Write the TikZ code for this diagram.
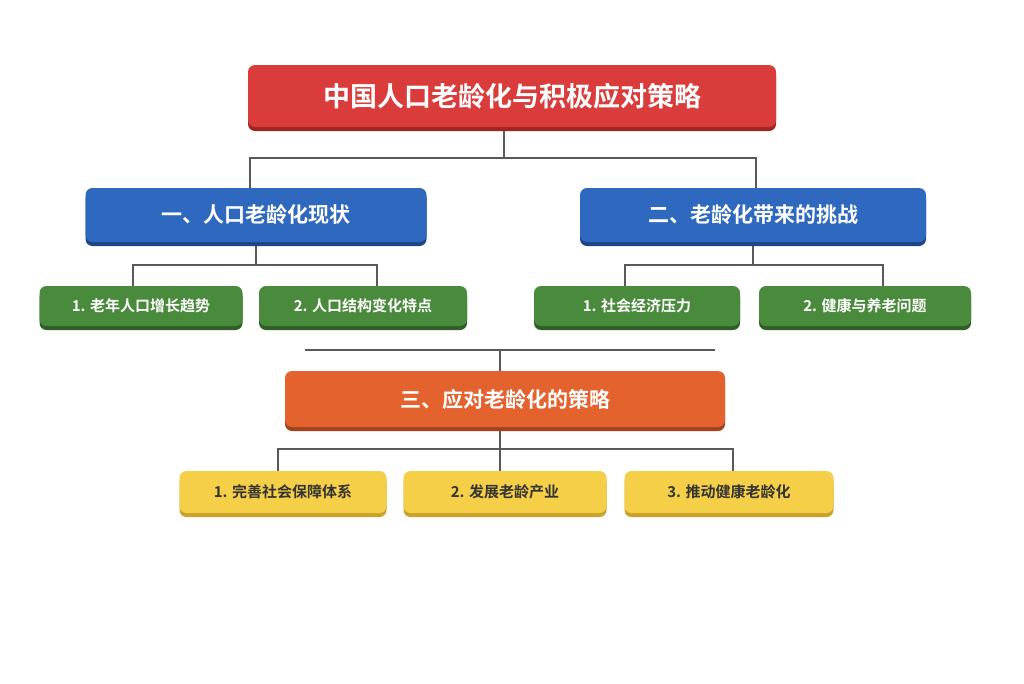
\documentclass[tikz,border=0pt]{standalone}
\usepackage{fontspec}
\setmainfont{Noto Sans CJK SC}[BoldFont={* Bold}]
\begin{document}
\begin{tikzpicture}[x=1pt,y=-1pt,
 box/.style={rounded corners=7pt,minimum height=#1,inner sep=0pt,font=\bfseries},
 conn/.style={draw=black!65,line width=1.1pt}]
\useasboundingbox[fill=white] (0,0) rectangle (1024,683);
\newcommand{\bx}[8]{% name, cx, cy, w, h, fill, shadow, text/ font
 \fill[#7,rounded corners=7pt] (#2-#4/2,#3-#5/2+4) rectangle (#2+#4/2,#3+#5/2+4);
 \node[box=#5pt,minimum width=#4pt,fill=#6] (#1) at (#2,#3) {#8};}
\definecolor{rd}{HTML}{D93C3A}\definecolor{rdS}{HTML}{9E2522}
\definecolor{bl}{HTML}{2F69BF}\definecolor{blS}{HTML}{1E4585}
\definecolor{gr}{HTML}{4A8A3C}\definecolor{grS}{HTML}{2F5E27}
\definecolor{or}{HTML}{E3622E}\definecolor{orS}{HTML}{A3421C}
\definecolor{ye}{HTML}{F4CF47}\definecolor{yeS}{HTML}{C9A227}
% connectors
\coordinate (j1) at (504,158);
\draw[conn] (504,126) -- (j1);
\draw[conn] (250,189) |- (756,158) -- (756,189);
\draw[conn] (133,287) |- (377,265) -- (377,287);
\draw[conn] (256,245) -- (256,265);
\draw[conn] (625,287) |- (883,265) -- (883,287);
\draw[conn] (753,245) -- (753,265);
\draw[conn] (305,350) -- (715,350);
\draw[conn] (500,350) -- (500,372);
\draw[conn] (278,472) |- (733,449) -- (733,472);
\draw[conn] (500,430) -- (500,472);
\bx{t}{512}{96}{528}{62}{rd}{rdS}{\color{white}\fontsize{27}{30}\selectfont 中国人口老龄化与积极应对策略}
\bx{b1}{256}{215}{341}{54}{bl}{blS}{\color{white}\fontsize{21}{24}\selectfont 一、人口老龄化现状}
\bx{b2}{753}{215}{346}{54}{bl}{blS}{\color{white}\fontsize{21}{24}\selectfont 二、老龄化带来的挑战}
\bx{g1}{141}{306}{203}{40}{gr}{grS}{\color{white}\fontsize{15}{18}\selectfont 1. 老年人口增长趋势}
\bx{g2}{363}{306}{208}{40}{gr}{grS}{\color{white}\fontsize{15}{18}\selectfont 2. 人口结构变化特点}
\bx{g3}{637}{306}{206}{40}{gr}{grS}{\color{white}\fontsize{15}{18}\selectfont 1. 社会经济压力}
\bx{g4}{865}{306}{212}{40}{gr}{grS}{\color{white}\fontsize{15}{18}\selectfont 2. 健康与养老问题}
\bx{o}{505}{399}{440}{56}{or}{orS}{\color{white}\fontsize{21}{24}\selectfont 三、应对老龄化的策略}
\bx{y1}{283}{492}{207}{42}{ye}{yeS}{\color{black!80}\fontsize{15}{18}\selectfont 1. 完善社会保障体系}
\bx{y2}{505}{492}{203}{42}{ye}{yeS}{\color{black!80}\fontsize{15}{18}\selectfont 2. 发展老龄产业}
\bx{y3}{729}{492}{209}{42}{ye}{yeS}{\color{black!80}\fontsize{15}{18}\selectfont 3. 推动健康老龄化}
\end{tikzpicture}
\end{document}
